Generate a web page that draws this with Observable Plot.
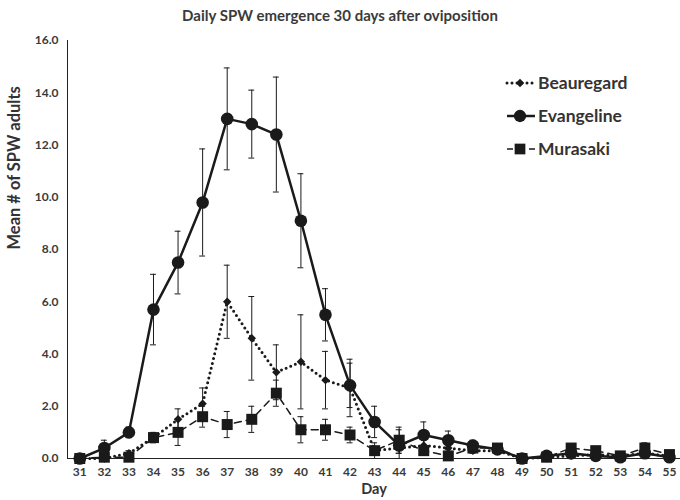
<!DOCTYPE html>
<html>
<head>
<meta charset="utf-8">
<script src="https://cdn.jsdelivr.net/npm/d3@7"></script>
<script src="https://cdn.jsdelivr.net/npm/@observablehq/plot@0.6"></script>
<style>
  html, body { margin: 0; padding: 0; background: #fff; }
  body { width: 680px; height: 500px; position: relative; font-family: Lato, "Open Sans", sans-serif; }
  #title { height: 32px; line-height: 30px; text-align: center; font-size: 15px; font-weight: 700; color: #3a3a3a; }
  #legend { position: absolute; left: 500px; top: 66px; }
  #legend text { font-family: Lato, "Open Sans", sans-serif; font-weight: 700; font-size: 17.5px; fill: #333; }
</style>
</head>
<body>
<div id="title">Daily SPW emergence 30 days after oviposition</div>
<div id="chart"></div>
<div id="legend"></div>
<script>
const days = [31,32,33,34,35,36,37,38,39,40,41,42,43,44,45,46,47,48,49,50,51,52,53,54,55];
const seriesNames = ["Beauregard", "Evangeline", "Murasaki"];
const beauregard   = [0, 0, 0.2, 0.8, 1.5, 2.1, 6.0, 4.6, 3.3, 3.7, 3.0, 2.7, 0.3, 0.4, 0.5, 0.4, 0.3, 0.3, 0, 0.05, 0.1, 0.15, 0.1, 0.2, 0.1];
const beauregardSE = [0, 0, 0.1, 0.1, 0.4, 0.6, 1.4, 1.6, 1.05, 1.8, 1.1, 1.1, 0.3, 0.7, 0.3, 0.2, 0.1, 0.1, 0, 0, 0.1, 0.1, 0, 0.1, 0];
const evangeline   = [0, 0.4, 1.0, 5.7, 7.5, 9.8, 13.0, 12.8, 12.4, 9.1, 5.5, 2.8, 1.4, 0.5, 0.9, 0.7, 0.5, 0.35, 0, 0.1, 0.2, 0.1, 0.05, 0.2, 0.05];
const evangelineSE = [0, 0.3, 0.2, 1.35, 1.2, 2.05, 1.95, 1.3, 2.2, 1.8, 1.0, 0.85, 0.6, 0.3, 0.5, 0.35, 0.2, 0.1, 0, 0.05, 0.1, 0.05, 0.05, 0.1, 0.05];
const murasaki     = [0, 0.05, 0.05, 0.8, 1.0, 1.6, 1.3, 1.5, 2.5, 1.1, 1.1, 0.9, 0.3, 0.7, 0.3, 0.1, 0.4, 0.4, 0, 0.05, 0.4, 0.3, 0.1, 0.4, 0.15];
const murasakiSE   = [0, 0.05, 0.05, 0.2, 0.5, 0.4, 0.5, 0.5, 0.5, 0.5, 0.4, 0.3, 0.1, 0.5, 0.1, 0.1, 0.1, 0.1, 0, 0, 0.1, 0.1, 0.05, 0.2, 0.05];
const yTicks = [0, 2, 4, 6, 8, 10, 12, 14, 16];

const mk = (name, vals, se) => days.map((d, i) => ({series: name, day: d, value: vals[i], lo: Math.max(0, vals[i] - se[i]), hi: vals[i] + se[i], se: se[i]}));
const B = mk("Beauregard", beauregard, beauregardSE);
const E = mk("Evangeline", evangeline, evangelineSE);
const M = mk("Murasaki", murasaki, murasakiSE);

const ink = "#1a1a1a";
const capW = 0.12;
function errMarks(data) {
  const d = data.filter(r => r.se > 0);
  return [
    Plot.ruleX(d, {x: "day", y1: "lo", y2: "hi", stroke: ink, strokeWidth: 1}),
    Plot.ruleY(d, {x1: r => r.day - capW, x2: r => r.day + capW, y: "hi", stroke: ink, strokeWidth: 1}),
    Plot.ruleY(d, {x1: r => r.day - capW, x2: r => r.day + capW, y: "lo", stroke: ink, strokeWidth: 1})
  ];
}

const chart = Plot.plot({
  width: 680,
  height: 468,
  marginLeft: 67,
  marginRight: 0,
  marginTop: 8,
  marginBottom: 42,
  style: {fontFamily: "Lato, 'Open Sans', sans-serif", color: "#333", background: "#fff"},
  x: {domain: [30.5, 55.45], axis: null},
  y: {domain: [0, 16], axis: null},
  marks: [
    Plot.axisY(yTicks, {tickSize: 0, tickPadding: 9, tickFormat: d => d.toFixed(1), fontSize: 12, fontWeight: 700, fill: "#3a3a3a", label: null}),
    Plot.axisX(days, {tickSize: 0, tickPadding: 9, fontSize: 12, fontWeight: 700, fill: "#3a3a3a", label: null}),
    Plot.ruleX([30.5], {y1: 0, y2: 16, stroke: "#222", strokeWidth: 1}),
    Plot.ruleY([0], {stroke: "#222", strokeWidth: 1}),
    Plot.text(["Day"], {frameAnchor: "bottom", dy: 35, fontSize: 14.5, fontWeight: 700, fill: "#333"}),
    Plot.text(["Mean # of SPW adults"], {frameAnchor: "left", dx: -53, rotate: -90, fontSize: 16.5, fontWeight: 700, fill: "#333"}),
    ...errMarks(M),
    ...errMarks(B),
    ...errMarks(E),
    Plot.line(M, {x: "day", y: "value", stroke: ink, strokeWidth: 1.5, strokeDasharray: "7,5"}),
    Plot.line(B, {x: "day", y: "value", stroke: ink, strokeWidth: 3, strokeDasharray: "0,5", strokeLinecap: "round"}),
    Plot.line(E, {x: "day", y: "value", stroke: ink, strokeWidth: 2.5}),
    Plot.dot(M, {x: "day", y: "value", symbol: "square", r: 6.2, fill: ink, stroke: "none"}),
    Plot.dot(B, {x: "day", y: "value", symbol: "diamond2", r: 3.8, fill: ink, stroke: "none"}),
    Plot.dot(E, {x: "day", y: "value", symbol: "circle", r: 6.3, fill: ink, stroke: "none"})
  ]
});
document.getElementById("chart").appendChild(chart);

// legend
const lg = d3.select("#legend").append("svg").attr("width", 180).attr("height", 100);
const items = [
  {name: seriesNames[0], dash: "0,5", w: 3, sym: d3.symbolDiamond2, size: 45, cap: "round"},
  {name: seriesNames[1], dash: null, w: 2.5, sym: d3.symbolCircle, size: 120, cap: "butt"},
  {name: seriesNames[2], dash: "6,16", w: 1.5, sym: d3.symbolSquare, size: 115, cap: "butt"}
];
items.forEach((it, i) => {
  const cy = 17 + i * 33;
  const g = lg.append("g").attr("transform", `translate(0,${cy})`);
  g.append("line").attr("x1", 7).attr("x2", 35).attr("y1", 0).attr("y2", 0)
    .attr("stroke", ink).attr("stroke-width", it.w).attr("stroke-dasharray", it.dash).attr("stroke-linecap", it.cap);
  g.append("path").attr("d", d3.symbol(it.sym, it.size)()).attr("transform", "translate(20,0)").attr("fill", ink);
  g.append("text").attr("x", 38).attr("y", 0).attr("dy", "0.35em").text(it.name);
});
</script>
</body>
</html>
